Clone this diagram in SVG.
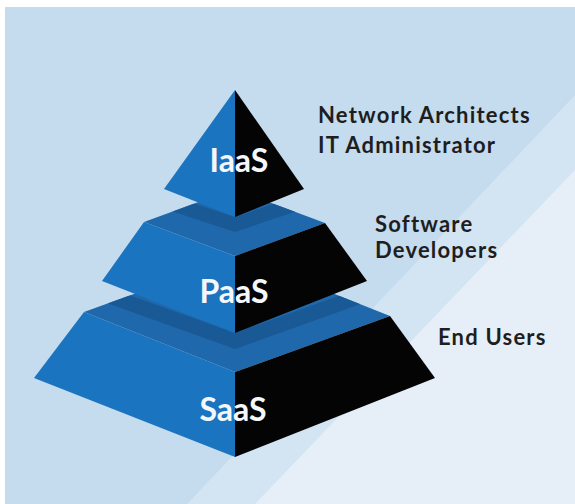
<svg xmlns="http://www.w3.org/2000/svg" width="575" height="504" viewBox="0 0 575 504">
  <defs>
    <style>
      .bg { fill: #c5dbee; }
      .band1 { fill: #d3e4f3; }
      .band2 { fill: #e6eff8; }
      .left { fill: #1b74bf; }
      .right { fill: #040404; }
      .top { fill: #1f68ab; }
      .shade { fill: #195a96; }
      .tier { font-family: Lato, "Noto Sans", sans-serif; font-weight: 700; font-size: 32px; fill: #f5f8fb; text-anchor: middle; }
      .role { font-family: Lato, "Noto Sans", sans-serif; font-weight: 700; font-size: 22px; letter-spacing: 1.2px; fill: #1e1e1e; }
    </style>
    <clipPath id="paasTop">
      <polygon points="144,222 234,189 325,223 235,256"/>
    </clipPath>
    <clipPath id="saasTop">
      <polygon points="84,312 239,256 390,316 235,372"/>
    </clipPath>
  </defs>

  <!-- backdrop with two diagonal light bands -->
  <rect width="575" height="504" fill="#ffffff"/>
  <rect class="bg" x="5" y="7" width="570" height="497"/>
  <polygon class="band1" points="575,95 575,504 187,504"/>
  <polygon class="band2" points="575,170 575,504 255,504"/>

  <!-- bottom tier -->
  <g id="saas">
    <polygon class="top" points="84,312 239,256 390,316 235,372"/>
    <polygon class="shade" clip-path="url(#saasTop)" points="90,281 235,333 380,281 380,297 235,349 90,297"/>
    <polygon class="left" points="84,312 235,372 235,457 34,378"/>
    <polygon class="right" points="235,372 390,316 435,378 235,457"/>
    <text class="tier" x="233" y="421">SaaS</text>
    <text class="role" x="438" y="345">End Users</text>
  </g>

  <!-- middle tier -->
  <g id="paas">
    <polygon class="top" points="144,222 234,189 325,223 235,256"/>
    <polygon class="shade" clip-path="url(#paasTop)" points="150,189 235,217 318,189 318,204 235,232 150,204"/>
    <polygon class="left" points="144,222 235,256 235,333 102,281"/>
    <polygon class="right" points="235,256 325,223 367,281 235,333"/>
    <text class="tier" x="234" y="303">PaaS</text>
    <text class="role" x="375" y="232">Software</text>
    <text class="role" x="375" y="258">Developers</text>
  </g>

  <!-- top tier -->
  <g id="iaas">
    <polygon class="left" points="235,90 164,189 235,217"/>
    <polygon class="right" points="235,90 304,189 235,217"/>
    <text class="tier" x="239" y="172">IaaS</text>
    <text class="role" x="318" y="123">Network Architects</text>
    <text class="role" x="318" y="153">IT Administrator</text>
  </g>
</svg>
